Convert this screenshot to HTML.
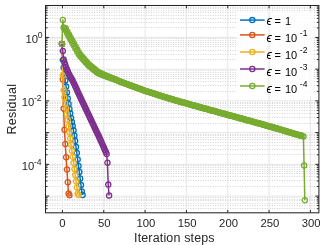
<!DOCTYPE html>
<html><head><meta charset="utf-8"><title>Residual vs iteration steps</title>
<style>
html,body{margin:0;padding:0;background:#fff;}
body{width:324px;height:245px;overflow:hidden;font-family:"Liberation Sans",sans-serif;}
svg{display:block;will-change:transform;}
text{font-family:"Liberation Sans",sans-serif;fill:#262626;}
.tk{font-size:11.3px;}
.sup{font-size:8.6px;}
.lg{font-size:11px;fill:#000;}
.lgi{font-size:12px;font-style:italic;fill:#000;}
.lgs{font-size:8.5px;fill:#000;}
</style></head><body>
<svg width="324" height="245" viewBox="0 0 324 245">
<rect x="0" y="0" width="324" height="245" fill="#ffffff"/>
<path d="M47.2 208.5H318.9M47.2 205.5H318.9M47.2 203.5H318.9M47.2 200.5H318.9M47.2 199.5H318.9M47.2 197.5H318.9M47.2 186.5H318.9M47.2 180.5H318.9M47.2 176.5H318.9M47.2 173.5H318.9M47.2 171.5H318.9M47.2 169.5H318.9M47.2 167.5H318.9M47.2 165.5H318.9M47.2 154.5H318.9M47.2 149.5H318.9M47.2 145.5H318.9M47.2 142.5H318.9M47.2 139.5H318.9M47.2 137.5H318.9M47.2 135.5H318.9M47.2 134.5H318.9M47.2 123.5H318.9M47.2 117.5H318.9M47.2 113.5H318.9M47.2 110.5H318.9M47.2 107.5H318.9M47.2 105.5H318.9M47.2 103.5H318.9M47.2 102.5H318.9M47.2 91.5H318.9M47.2 85.5H318.9M47.2 81.5H318.9M47.2 78.5H318.9M47.2 76.5H318.9M47.2 74.5H318.9M47.2 72.5H318.9M47.2 70.5H318.9M47.2 59.5H318.9M47.2 54.5H318.9M47.2 50.5H318.9M47.2 46.5H318.9M47.2 44.5H318.9M47.2 42.5H318.9M47.2 40.5H318.9M47.2 38.5H318.9M47.2 27.5H318.9M47.2 22.5H318.9M47.2 18.5H318.9M47.2 15.5H318.9M47.2 12.5H318.9M47.2 10.5H318.9M47.2 8.5H318.9M47.2 7.5H318.9" stroke="#d3d3d3" stroke-width="1" stroke-dasharray="1 1.47" fill="none"/>
<path d="M62.45 5.5V212.8M103.78 5.5V212.8M145.10 5.5V212.8M186.43 5.5V212.8M227.75 5.5V212.8M269.07 5.5V212.8M310.40 5.5V212.8M45.5 196.08H318.9M45.5 164.35H318.9M45.5 132.62H318.9M45.5 100.89H318.9M45.5 69.16H318.9M45.5 37.43H318.9" stroke="#e6e6e6" stroke-width="1" fill="none"/>
<defs>
<clipPath id="cp"><rect x="45.5" y="5.5" width="273.4" height="207.3"/></clipPath>
<marker id="m0" markerUnits="userSpaceOnUse" markerWidth="8" markerHeight="8" refX="4" refY="4" viewBox="0 0 8 8" overflow="visible"><circle cx="4" cy="4" r="2.6" fill="none" stroke="#0072BD" stroke-width="1.3"/></marker>
<marker id="m1" markerUnits="userSpaceOnUse" markerWidth="8" markerHeight="8" refX="4" refY="4" viewBox="0 0 8 8" overflow="visible"><circle cx="4" cy="4" r="2.6" fill="none" stroke="#D95319" stroke-width="1.3"/></marker>
<marker id="m2" markerUnits="userSpaceOnUse" markerWidth="8" markerHeight="8" refX="4" refY="4" viewBox="0 0 8 8" overflow="visible"><circle cx="4" cy="4" r="2.6" fill="none" stroke="#EDB120" stroke-width="1.3"/></marker>
<marker id="m3" markerUnits="userSpaceOnUse" markerWidth="8" markerHeight="8" refX="4" refY="4" viewBox="0 0 8 8" overflow="visible"><circle cx="4" cy="4" r="2.6" fill="none" stroke="#7E2F8E" stroke-width="1.3"/></marker>
<marker id="m4" markerUnits="userSpaceOnUse" markerWidth="8" markerHeight="8" refX="4" refY="4" viewBox="0 0 8 8" overflow="visible"><circle cx="4" cy="4" r="2.6" fill="none" stroke="#77AC30" stroke-width="1.3"/></marker>
</defs>
<g clip-path="url(#cp)" fill="none" stroke-linejoin="round">
<path d="M61.95 43.90L62.78 60.00L63.60 67.50L64.43 74.00L65.26 80.50L66.08 86.50L66.91 92.50L67.74 98.50L68.56 104.00L69.39 109.00L70.22 113.50L71.04 118.00L71.87 122.00L72.69 126.00L73.52 130.50L74.35 135.50L75.17 141.00L76.00 147.00L76.83 153.00L77.65 159.50L78.48 166.00L79.31 172.00L80.13 178.50L80.96 185.00L81.79 191.50L82.61 195.00" stroke="#0072BD" stroke-width="1.5" marker-start="url(#m0)" marker-mid="url(#m0)" marker-end="url(#m0)"/>
<path d="M61.95 43.90L62.78 79.40L63.60 108.60L64.43 129.70L65.26 144.00L66.08 157.20L66.91 169.50L67.74 182.30L68.56 193.50L69.39 195.30" stroke="#D95319" stroke-width="1.5" marker-start="url(#m1)" marker-mid="url(#m1)" marker-end="url(#m1)"/>
<path d="M61.95 43.90L62.78 75.60L63.60 90.30L64.43 97.40L65.26 103.50L66.08 108.50L66.91 114.00L67.74 120.12L68.56 126.23L69.39 132.35L70.22 138.46L71.04 144.58L71.87 150.69L72.69 156.81L73.52 162.92L74.35 169.04L75.17 175.15L76.00 181.27L76.83 187.38L77.65 193.50L78.48 195.00" stroke="#EDB120" stroke-width="1.5" marker-start="url(#m2)" marker-mid="url(#m2)" marker-end="url(#m2)"/>
<path d="M61.95 43.90L62.78 51.00L63.60 59.50L64.43 62.40L65.26 65.00L66.08 67.40L66.91 69.60L67.74 71.60L68.56 73.40L69.39 75.10L70.22 76.70L71.04 78.10L71.87 79.40L72.69 80.86L73.52 82.66L74.35 84.46L75.17 86.26L76.00 88.05L76.83 89.85L77.65 91.65L78.48 93.45L79.31 95.25L80.13 97.05L80.96 98.84L81.79 100.57L82.61 102.31L83.44 104.05L84.27 105.79L85.09 107.52L85.92 109.26L86.75 111.00L87.57 112.74L88.40 114.47L89.22 116.21L90.05 117.95L90.88 119.69L91.70 121.43L92.53 123.18L93.36 124.92L94.18 126.66L95.01 128.40L95.84 130.15L96.66 131.89L97.49 133.63L98.32 135.37L99.14 137.11L99.97 138.89L100.80 140.78L101.62 142.66L102.45 144.55L103.28 146.44L104.10 148.33L104.93 150.22L105.75 152.11L106.58 154.00L107.41 162.80L108.23 184.60L109.06 195.60" stroke="#7E2F8E" stroke-width="1.5" marker-start="url(#m3)" marker-mid="url(#m3)" marker-end="url(#m3)"/>
<path d="M61.95 43.90L62.78 20.00L63.60 27.40L64.09 28.33L65.69 28.36L65.59 30.25L67.41 31.64L67.25 33.87L69.04 34.84L68.91 36.86L70.70 37.81L70.56 39.83L72.35 40.78L72.21 42.80L74.00 43.75L73.87 45.77L75.66 46.74L75.52 48.77L77.31 49.74L77.17 51.77L78.96 52.75L78.85 54.82L80.54 55.08L80.55 56.74L82.20 56.95L82.20 58.61L83.85 58.81L83.85 60.48L85.50 60.68L85.51 62.35L87.16 62.55L87.16 64.21L88.79 64.39L88.87 65.91L90.40 65.74L90.53 67.27L92.05 67.09L92.18 68.62L93.71 68.44L93.84 69.97L95.36 69.79L95.49 71.32L97.01 71.14L97.18 72.70L98.56 72.23L98.93 73.58L100.18 72.93L100.60 74.24L101.81 73.67L102.27 74.90L103.45 74.42L103.94 75.56L105.08 75.16L105.61 76.22L106.72 75.90L107.29 76.86L108.34 76.58L108.96 77.44L109.98 77.24L110.63 78.02L111.62 77.90L112.30 78.60L113.25 78.57L113.97 79.19L114.89 79.23L115.63 79.77L116.53 79.91L117.30 80.43L118.17 80.71L118.97 81.15L119.81 81.51L120.63 81.83L121.46 82.14L122.28 82.44L123.11 82.75L123.94 83.05L124.76 83.36L125.59 83.66L126.42 83.96L127.24 84.27L128.07 84.57L128.90 84.88L129.72 85.18L130.55 85.49L131.38 85.79L132.20 86.10L133.03 86.40L133.86 86.70L134.68 87.01L135.51 87.31L136.34 87.62L137.16 87.92L137.99 88.23L138.81 88.53L139.64 88.84L140.47 89.14L141.29 89.45L142.12 89.75L142.95 90.05L143.77 90.36L144.60 90.66L145.43 90.93L146.25 91.20L147.08 91.46L147.91 91.73L148.73 91.99L149.56 92.25L150.39 92.52L151.21 92.78L152.04 93.05L152.87 93.31L153.69 93.58L154.52 93.84L155.34 94.10L156.17 94.37L157.00 94.63L157.82 94.90L158.65 95.16L159.48 95.43L160.30 95.69L161.13 95.95L161.96 96.22L162.78 96.48L163.61 96.75L164.44 97.01L165.26 97.28L166.09 97.54L166.92 97.81L167.74 98.07L168.57 98.33L169.40 98.60L170.22 98.83L171.05 99.07L171.87 99.30L172.70 99.54L173.53 99.77L174.35 100.00L175.18 100.24L176.01 100.47L176.83 100.71L177.66 100.94L178.49 101.18L179.31 101.41L180.14 101.64L180.97 101.88L181.79 102.11L182.62 102.35L183.45 102.58L184.27 102.81L185.10 103.05L185.93 103.28L186.75 103.52L187.58 103.75L188.40 103.99L189.23 104.22L190.06 104.45L190.88 104.69L191.71 104.92L192.54 105.16L193.36 105.39L194.19 105.62L195.02 105.85L195.84 106.08L196.67 106.31L197.50 106.53L198.32 106.76L199.15 106.99L199.98 107.21L200.80 107.44L201.63 107.67L202.45 107.89L203.28 108.12L204.11 108.35L204.93 108.58L205.76 108.80L206.59 109.03L207.41 109.26L208.24 109.48L209.07 109.71L209.89 109.94L210.72 110.17L211.55 110.39L212.37 110.62L213.20 110.85L214.03 111.07L214.85 111.30L215.68 111.53L216.51 111.75L217.33 111.98L218.16 112.21L218.99 112.44L219.81 112.66L220.64 112.89L221.46 113.12L222.29 113.34L223.12 113.57L223.94 113.80L224.77 114.02L225.60 114.25L226.42 114.48L227.25 114.71L228.08 114.93L228.90 115.16L229.73 115.39L230.56 115.61L231.38 115.84L232.21 116.07L233.04 116.29L233.86 116.52L234.69 116.75L235.51 116.98L236.34 117.20L237.17 117.43L237.99 117.66L238.82 117.88L239.65 118.11L240.47 118.34L241.30 118.56L242.13 118.79L242.95 119.02L243.78 119.25L244.61 119.47L245.43 119.70L246.26 119.93L247.09 120.15L247.91 120.38L248.74 120.61L249.57 120.84L250.39 121.06L251.22 121.29L252.05 121.52L252.87 121.74L253.70 121.97L254.52 122.20L255.35 122.42L256.18 122.65L257.00 122.88L257.83 123.11L258.66 123.33L259.48 123.56L260.31 123.79L261.14 124.01L261.96 124.24L262.79 124.47L263.62 124.69L264.44 124.93L265.27 125.17L266.10 125.42L266.92 125.66L267.75 125.90L268.57 126.14L269.40 126.39L270.23 126.63L271.05 126.87L271.88 127.11L272.71 127.36L273.53 127.60L274.36 127.84L275.19 128.09L276.01 128.33L276.84 128.57L277.67 128.81L278.49 129.06L279.32 129.30L280.15 129.54L280.97 129.78L281.80 130.03L282.63 130.27L283.45 130.51L284.28 130.76L285.11 131.00L285.93 131.24L286.76 131.48L287.58 131.73L288.41 131.97L289.24 132.21L290.06 132.45L290.89 132.70L291.72 132.94L292.54 133.18L293.37 133.43L294.20 133.67L295.02 133.91L295.85 134.15L296.68 134.40L297.50 134.64L298.33 134.88L299.16 135.12L299.98 135.37L300.81 135.61L301.63 135.85L303.40 136.40L304.10 165.40L304.80 200.20" stroke="#77AC30" stroke-width="1.5" marker-start="url(#m4)" marker-mid="url(#m4)" marker-end="url(#m4)"/>
</g>
<rect x="236.5" y="12.0" width="77.0" height="84.3" fill="#ffffff" fill-opacity="0.82"/>
<path d="M269.07 12.0V96.3" stroke="#e6e6e6" stroke-width="1" fill="none"/>
<path d="M240 20.10H264.6" stroke="#0072BD" stroke-width="1.5" fill="none"/>
<circle cx="252.3" cy="20.10" r="2.6" stroke="#0072BD" stroke-width="1.3" fill="none"/>
<text class="lgi" x="266.6" y="24.60">&#x03F5;</text>
<text class="lg" x="274.6" y="24.60">=</text>
<text class="lg" x="285.0" y="24.60">1</text>
<path d="M240 34.90H264.6" stroke="#D95319" stroke-width="1.5" fill="none"/>
<circle cx="252.3" cy="34.90" r="2.6" stroke="#D95319" stroke-width="1.3" fill="none"/>
<text class="lgi" x="266.6" y="41.65">&#x03F5;</text>
<text class="lg" x="274.6" y="41.65">=</text>
<text class="lg" x="285.0" y="41.65">10</text>
<text class="lgs" x="299.8" y="35.55">-1</text>
<path d="M240 52.00H264.6" stroke="#EDB120" stroke-width="1.5" fill="none"/>
<circle cx="252.3" cy="52.00" r="2.6" stroke="#EDB120" stroke-width="1.3" fill="none"/>
<text class="lgi" x="266.6" y="58.70">&#x03F5;</text>
<text class="lg" x="274.6" y="58.70">=</text>
<text class="lg" x="285.0" y="58.70">10</text>
<text class="lgs" x="299.8" y="52.60">-2</text>
<path d="M240 69.00H264.6" stroke="#7E2F8E" stroke-width="1.5" fill="none"/>
<circle cx="252.3" cy="69.00" r="2.6" stroke="#7E2F8E" stroke-width="1.3" fill="none"/>
<text class="lgi" x="266.6" y="75.75">&#x03F5;</text>
<text class="lg" x="274.6" y="75.75">=</text>
<text class="lg" x="285.0" y="75.75">10</text>
<text class="lgs" x="299.8" y="69.65">-3</text>
<path d="M240 86.00H264.6" stroke="#77AC30" stroke-width="1.5" fill="none"/>
<circle cx="252.3" cy="86.00" r="2.6" stroke="#77AC30" stroke-width="1.3" fill="none"/>
<text class="lgi" x="266.6" y="92.80">&#x03F5;</text>
<text class="lg" x="274.6" y="92.80">=</text>
<text class="lg" x="285.0" y="92.80">10</text>
<text class="lgs" x="299.8" y="86.70">-4</text>
<g stroke="#262626" fill="none" stroke-width="1.05">
<rect x="45.5" y="5.5" width="273.4" height="207.3"/>
</g>
<path d="M62.45 212.8v-2.8M62.45 5.5v2.8M103.78 212.8v-2.8M103.78 5.5v2.8M145.10 212.8v-2.8M145.10 5.5v2.8M186.43 212.8v-2.8M186.43 5.5v2.8M227.75 212.8v-2.8M227.75 5.5v2.8M269.07 212.8v-2.8M269.07 5.5v2.8M310.40 212.8v-2.8M310.40 5.5v2.8M45.5 196.08h3.6M318.9 196.08h-3.6M45.5 164.35h3.6M318.9 164.35h-3.6M45.5 132.62h3.6M318.9 132.62h-3.6M45.5 100.89h3.6M318.9 100.89h-3.6M45.5 69.16h3.6M318.9 69.16h-3.6M45.5 37.43h3.6M318.9 37.43h-3.6M45.5 5.70h3.6M318.9 5.70h-3.6M45.5 208.71h2M318.9 208.71h-2M45.5 205.63h2M318.9 205.63h-2M45.5 203.12h2M318.9 203.12h-2M45.5 201.00h2M318.9 201.00h-2M45.5 199.15h2M318.9 199.15h-2M45.5 197.53h2M318.9 197.53h-2M45.5 186.53h2M318.9 186.53h-2M45.5 180.94h2M318.9 180.94h-2M45.5 176.98h2M318.9 176.98h-2M45.5 173.90h2M318.9 173.90h-2M45.5 171.39h2M318.9 171.39h-2M45.5 169.27h2M318.9 169.27h-2M45.5 167.42h2M318.9 167.42h-2M45.5 165.80h2M318.9 165.80h-2M45.5 154.80h2M318.9 154.80h-2M45.5 149.21h2M318.9 149.21h-2M45.5 145.25h2M318.9 145.25h-2M45.5 142.17h2M318.9 142.17h-2M45.5 139.66h2M318.9 139.66h-2M45.5 137.54h2M318.9 137.54h-2M45.5 135.69h2M318.9 135.69h-2M45.5 134.07h2M318.9 134.07h-2M45.5 123.07h2M318.9 123.07h-2M45.5 117.48h2M318.9 117.48h-2M45.5 113.52h2M318.9 113.52h-2M45.5 110.44h2M318.9 110.44h-2M45.5 107.93h2M318.9 107.93h-2M45.5 105.81h2M318.9 105.81h-2M45.5 103.96h2M318.9 103.96h-2M45.5 102.34h2M318.9 102.34h-2M45.5 91.34h2M318.9 91.34h-2M45.5 85.75h2M318.9 85.75h-2M45.5 81.79h2M318.9 81.79h-2M45.5 78.71h2M318.9 78.71h-2M45.5 76.20h2M318.9 76.20h-2M45.5 74.08h2M318.9 74.08h-2M45.5 72.23h2M318.9 72.23h-2M45.5 70.61h2M318.9 70.61h-2M45.5 59.61h2M318.9 59.61h-2M45.5 54.02h2M318.9 54.02h-2M45.5 50.06h2M318.9 50.06h-2M45.5 46.98h2M318.9 46.98h-2M45.5 44.47h2M318.9 44.47h-2M45.5 42.35h2M318.9 42.35h-2M45.5 40.50h2M318.9 40.50h-2M45.5 38.88h2M318.9 38.88h-2M45.5 27.88h2M318.9 27.88h-2M45.5 22.29h2M318.9 22.29h-2M45.5 18.33h2M318.9 18.33h-2M45.5 15.25h2M318.9 15.25h-2M45.5 12.74h2M318.9 12.74h-2M45.5 10.62h2M318.9 10.62h-2M45.5 8.77h2M318.9 8.77h-2M45.5 7.15h2M318.9 7.15h-2" stroke="#262626" stroke-width="1" fill="none"/>
<text class="tk" x="62.45" y="226.8" text-anchor="middle">0</text>
<text class="tk" x="104.28" y="226.8" text-anchor="middle">50</text>
<text class="tk" x="145.90" y="226.8" text-anchor="middle">100</text>
<text class="tk" x="187.23" y="226.8" text-anchor="middle">150</text>
<text class="tk" x="228.55" y="226.8" text-anchor="middle">200</text>
<text class="tk" x="269.88" y="226.8" text-anchor="middle">250</text>
<text class="tk" x="311.20" y="226.8" text-anchor="middle">300</text>
<text class="tk" x="38.10" y="43.03" text-anchor="end">10</text>
<text class="sup" x="37.80" y="37.73">0</text>
<text class="tk" x="34.30" y="106.49" text-anchor="end">10</text>
<text class="sup" x="34.00" y="101.19">-2</text>
<text class="tk" x="34.30" y="169.95" text-anchor="end">10</text>
<text class="sup" x="34.00" y="164.65">-4</text>
<text x="134" y="241.6" font-size="12.5" textLength="80.6" lengthAdjust="spacing">Iteration steps</text>
<text transform="translate(16.2 134.5) rotate(-90)" font-size="12.5" textLength="50.6" lengthAdjust="spacing">Residual</text>
</svg></body></html>
